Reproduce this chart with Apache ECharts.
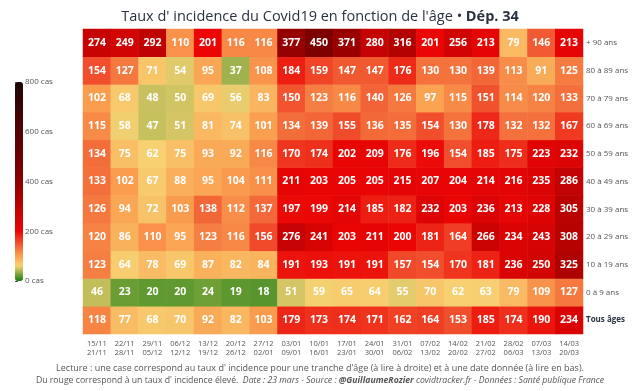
<!DOCTYPE html>
<html>
<head>
<meta charset="utf-8">
<script src="https://cdn.jsdelivr.net/npm/echarts@6/dist/echarts.min.js"></script>
<style>html,body{margin:0;padding:0;background:#fff}#c{width:640px;height:391px}</style>
</head>
<body>
<div id="c"></div>
<script>
// Week start / end dates (columns)
const weekStart = ['15/11','22/11','29/11','06/12','13/12','20/12','27/12','03/01','10/01','17/01','24/01','31/01','07/02','14/02','21/02','28/02','07/03','14/03'];
const weekEnd   = ['21/11','28/11','05/12','12/12','19/12','26/12','02/01','09/01','16/01','23/01','30/01','06/02','13/02','20/02','27/02','06/03','13/03','20/03'];

// Age groups, bottom to top
const ageGroups = ['Tous âges','0 à 9 ans','10 à 19 ans','20 à 29 ans','30 à 39 ans','40 à 49 ans','50 à 59 ans','60 à 69 ans','70 à 79 ans','80 à 89 ans','+ 90 ans'];

// Incidence values per age group
const tousAges = [118,77,68,70,92,82,103,179,173,174,171,162,164,153,185,174,190,234];
const age0_9   = [46,23,20,20,24,19,18,51,59,65,64,55,70,62,63,79,109,127];
const age10_19 = [123,64,78,69,87,82,84,191,193,191,191,157,154,170,181,236,250,325];
const age20_29 = [120,86,110,95,123,116,156,276,241,203,211,200,181,164,266,234,243,308];
const age30_39 = [126,94,72,103,138,112,137,197,199,214,185,182,232,203,236,213,228,305];
const age40_49 = [133,102,67,88,95,104,111,211,203,205,205,215,207,204,214,216,235,286];
const age50_59 = [134,75,62,75,93,92,116,170,174,202,209,176,196,154,185,175,223,232];
const age60_69 = [115,58,47,51,81,74,101,134,139,155,136,135,154,130,178,132,132,167];
const age70_79 = [102,68,48,50,69,56,83,150,123,116,140,126,97,115,151,114,120,133];
const age80_89 = [154,127,71,54,95,37,108,184,159,147,147,176,130,130,139,113,91,125];
const age90    = [274,249,292,110,201,116,116,377,450,371,280,316,201,256,213,79,146,213];

const rows = [tousAges, age0_9, age10_19, age20_29, age30_39, age40_49, age50_59, age60_69, age70_79, age80_89, age90];

const colorTicks = [0,200,400,600,800];

const data = [];
rows.forEach((r, i) => r.forEach((v, j) => data.push([j, i, v])));

// colour scale stops (styling)
const stops = [
  [0,   [20,125,15]],
  [60,  [247,210,115]],
  [100, [250,160,80]],
  [140, [242,100,55]],
  [200, [235,5,5]],
  [400, [139,0,0]],
  [800, [30,5,5]]
];
function colAt(v){
  for (let k=0;k<stops.length-1;k++){
    const [a,ca]=stops[k],[b,cb]=stops[k+1];
    if (v>=a && v<=b){
      const t=(v-a)/(b-a);
      const c=ca.map((x,i)=>Math.round(x+(cb[i]-x)*t));
      return 'rgb('+c.join(',')+')';
    }
  }
  return 'rgb(30,5,5)';
}
const palette=[];
for (let v=0; v<=800; v+=5) palette.push(colAt(v));

const xLabels = weekStart.map((s,i)=>s+'\n'+weekEnd[i]);

const chart = echarts.init(document.getElementById('c'), null, {renderer:'canvas'});
chart.setOption({
  animation:false,
  textStyle:{fontFamily:'Open Sans'},
  title:[
    {text:"{a|Taux d' incidence du Covid19 en fonction de l'âge • }{b|Dép. 34}",
     left:'center', top:4,
     textStyle:{fontWeight:'normal', fontFamily:'Open Sans', fontSize:14.5,
      rich:{
       a:{fontFamily:'Open Sans',fontSize:14.5,fontWeight:'normal',color:'#2a3240'},
       b:{fontFamily:'Open Sans',fontSize:14.5,fontWeight:'bold',color:'#2a3240'}}}},
    {text:"Lecture : une case correspond au taux d' incidence pour une tranche d'âge (à lire à droite) et à une date donnée (à lire en bas).",
     left:'center', top:359,
     textStyle:{fontFamily:'Open Sans',fontSize:9,fontWeight:'normal',color:'#555'}},
    {text:"{n|Du rouge correspond à un taux d' incidence élevé.  }{i|Date : 23 mars - Source : }{bi|@GuillaumeRozier}{i| covidtracker.fr - Données : Santé publique France}",
     left:'center', top:371,
     textStyle:{fontWeight:'normal', fontFamily:'Open Sans', fontSize:8.7,
      rich:{
       n:{fontFamily:'Open Sans',fontSize:8.7,fontWeight:'normal',color:'#555'},
       i:{fontFamily:'Open Sans',fontSize:8.7,fontWeight:'normal',fontStyle:'italic',color:'#555'},
       bi:{fontFamily:'Open Sans',fontSize:8.7,fontStyle:'italic',fontWeight:'bold',color:'#555'}}}}
  ],
  grid:[
    {left:83, right:57, top:29, bottom:57},
    {left:15, width:8, top:82, height:199}
  ],
  xAxis:[
    {type:'category', data:xLabels, gridIndex:0,
     axisLine:{show:false}, axisTick:{show:false}, splitArea:{show:false},
     axisLabel:{fontSize:7.5, color:'#555', lineHeight:9, margin:5, interval:0}},
    {type:'value', gridIndex:1, show:false, min:0, max:1}
  ],
  yAxis:[
    {type:'category', data:ageGroups, gridIndex:0, position:'right',
     axisLine:{show:false}, axisTick:{show:false},
     axisLabel:{fontSize:8, color:'#555', margin:3,
       formatter:v=> v==='Tous âges' ? '{b|'+v+'}' : v,
       rich:{b:{fontSize:8,fontWeight:'bold',color:'#2a3240'}}}},
    {type:'value', gridIndex:1, position:'right', min:colorTicks[0], max:colorTicks[colorTicks.length-1], interval:200,
     axisLine:{show:false}, splitLine:{show:false},
     axisTick:{show:true, length:3, lineStyle:{color:'#444'}},
     axisLabel:{fontSize:8, color:'#555', margin:2, formatter:'{value} cas'}}
  ],
  visualMap:{
    type:'continuous', min:0, max:800, seriesIndex:0,
    calculable:false, orient:'vertical', left:15, top:82,
    itemWidth:8, itemHeight:199, padding:0, text:['',''], showLabel:false,
    inRange:{color:palette}
  },
  series:[
    {type:'heatmap', data:data, xAxisIndex:0, yAxisIndex:0,
     label:{show:true, color:'#fff', fontWeight:'bold', fontSize:10.5, fontFamily:'Open Sans',
       formatter:p=>p.value[2]},
     emphasis:{disabled:true}, itemStyle:{borderWidth:0}},
    {type:'scatter', data:[], xAxisIndex:1, yAxisIndex:1}
  ]
});
</script>
</body>
</html>
